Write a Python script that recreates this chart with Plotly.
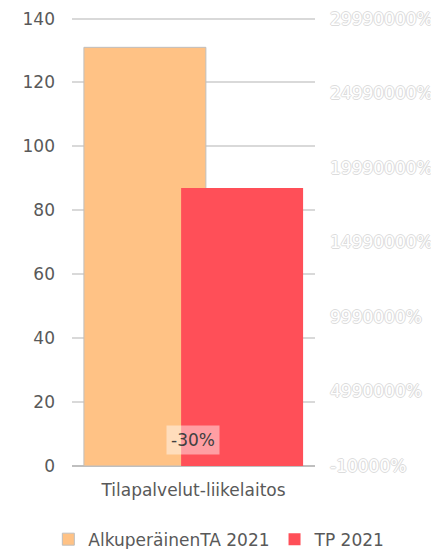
import plotly.graph_objects as go

categories = ["Tilapalvelut-liikelaitos"]
series_names = ["AlkuperäinenTA 2021", "TP 2021"]
ta_values = [131]
tp_values = [87]
change_pct = [-30]
change_labels = ["-30%"]
y_ticks = [0, 20, 40, 60, 80, 100, 120, 140]
y2_ticks = [-10000, 4990000, 9990000, 14990000, 19990000, 24990000, 29990000]
y2_ticklabels = ["-10000%", "4990000%", "9990000%", "14990000%", "19990000%", "24990000%", "29990000%"]

font_family = "DejaVu Sans, Liberation Sans, Arial, sans-serif"
txt = "#595959"

# small headroom so the top gridline is drawn
y_top = y_ticks[-1] * 1.0035
y2_top = y2_ticks[0] + (y2_ticks[-1] - y2_ticks[0]) * (y_top / y_ticks[-1])

fig = go.Figure()
fig.add_trace(go.Bar(
    x=categories, y=ta_values, name=series_names[0],
    marker=dict(color="#FFC285", line=dict(color="#BFBFBF", width=1)),
    offset=-0.451, width=0.502,
))
fig.add_trace(go.Bar(
    x=categories, y=tp_values, name=series_names[1],
    marker=dict(color="#FF4F58", line=dict(color="#FF4F58", width=0)),
    offset=-0.051, width=0.502,
))
fig.add_trace(go.Scatter(
    x=categories, y=change_pct, yaxis="y2", mode="markers",
    marker=dict(opacity=0), showlegend=False, hoverinfo="skip",
))
fig.add_annotation(
    x=categories[0], y=change_pct[0], xref="x", yref="y2",
    text=change_labels[0], showarrow=False, yshift=26, xshift=-1,
    bgcolor="rgba(255,255,255,0.45)", borderpad=4,
    font=dict(family=font_family, size=17, color="#404040"),
)

fig.update_layout(
    width=439, height=549,
    margin=dict(l=64, r=132, t=9, b=91, autoexpand=False),
    paper_bgcolor="white", plot_bgcolor="white",
    barmode="overlay",
    font=dict(family=font_family, size=17, color=txt),
    xaxis=dict(
        range=[-0.5, 0.5], showgrid=False, zeroline=False, automargin=False,
        showline=False, tickfont=dict(size=17, color=txt), ticks="",
        ticklabelstandoff=12,
    ),
    yaxis=dict(
        range=[0, y_top], tickvals=y_ticks, showgrid=True, automargin=False,
        gridcolor="#D9D9D9", gridwidth=1.5, zeroline=True,
        zerolinecolor="#BFBFBF", zerolinewidth=1.5,
        showline=False, ticks="", ticklabelstandoff=16,
        ticklabeloverflow="allow",
        tickfont=dict(size=17, color=txt),
    ),
    yaxis2=dict(
        overlaying="y", side="right", range=[y2_ticks[0], y2_top], automargin=False,
        tickvals=y2_ticks, ticktext=y2_ticklabels, showgrid=False,
        zeroline=False, showline=False, ticks="", ticklabelstandoff=14,
        ticklabeloverflow="allow",
        tickfont=dict(size=17, color="white",
                      shadow="-1px 0 #DCDCDC, 1px 0 #DCDCDC, 0 -1px #DCDCDC, 0 1px #DCDCDC"),
    ),
    legend=dict(
        orientation="h",
        x=1.31, xanchor="right", y=-0.164, yanchor="middle",
        font=dict(size=17, color=txt), traceorder="normal",
    ),
)

fig.write_html("out.html")
